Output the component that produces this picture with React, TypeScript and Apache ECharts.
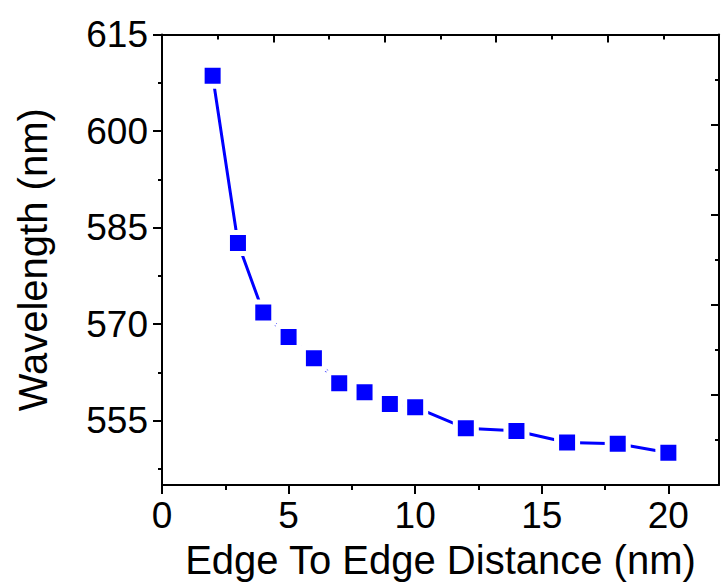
import React, { useEffect, useRef } from "react";
import * as echarts from "echarts";

const distances = [2, 3, 4, 5, 6, 7, 8, 9, 10, 12, 14, 16, 18, 20];
const wavelengths = [608.6, 582.6, 571.8, 568.0, 564.7, 560.8, 559.4, 557.6, 557.1, 553.8, 553.4, 551.6, 551.4, 550.0];

const xMajorTicks = [0, 5, 10, 15, 20];
const xMinorTicks = [2.5, 7.5, 12.5, 17.5];
const yMajorTicks = [555, 570, 585, 600, 615];
const yMinorTicks = [547.5, 562.5, 577.5, 592.5, 607.5];

const xTitle = "Edge To Edge Distance (nm)";
const yTitle = "Wavelength (nm)";

const FONT = "'Liberation Sans', Arial, Helvetica, sans-serif";
const BLACK = "#000000";
const BLUE = "#0000ff";

export default function App() {
  const ref = useRef<HTMLDivElement>(null);

  useEffect(() => {
    if (!ref.current) return;
    const chart = echarts.init(ref.current, null, { renderer: "svg" });
    const line = { lineStyle: { color: BLACK, width: 2 } };
    const option = {
      animation: false,
      backgroundColor: "#ffffff",
      grid: { left: 162, top: 34.5, right: 2, bottom: 103, containLabel: false },
      xAxis: [
        {
          type: "value",
          position: "bottom",
          min: 0,
          max: 22,
          axisLine: { show: true, ...line, onZero: false },
          axisTick: { show: true, inside: false, length: 9, customValues: xMajorTicks, ...line },
          axisLabel: {
            show: true,
            customValues: xMajorTicks,
            fontSize: 37,
            fontFamily: FONT,
            color: BLACK,
            margin: 12,
          },
          splitLine: { show: false },
          name: xTitle,
          nameLocation: "middle",
          nameGap: 55,
          nameTextStyle: { fontSize: 40, fontFamily: FONT, color: BLACK },
        },
        {
          type: "value",
          position: "bottom",
          min: 0,
          max: 22,
          axisLine: { show: false, onZero: false },
          axisTick: { show: true, inside: false, length: 5, customValues: xMinorTicks, ...line },
          axisLabel: { show: false },
          splitLine: { show: false },
        },
        {
          type: "value",
          position: "top",
          min: 0,
          max: 5,
          interval: 1,
          axisLine: { show: true, ...line, onZero: false },
          axisTick: { show: true, inside: true, length: 8, ...line },
          minorTick: { show: true, splitNumber: 2, length: 5, ...line },
          axisLabel: { show: false },
          splitLine: { show: false },
        },
      ],
      yAxis: [
        {
          type: "value",
          position: "left",
          min: 545,
          max: 615,
          axisLine: { show: true, ...line, onZero: false },
          axisTick: { show: true, inside: false, length: 9, customValues: yMajorTicks, ...line },
          axisLabel: {
            show: true,
            customValues: yMajorTicks,
            fontSize: 37,
            fontFamily: FONT,
            color: BLACK,
            margin: 14,
          },
          splitLine: { show: false },
          name: yTitle,
          nameLocation: "middle",
          nameGap: 109,
          nameTextStyle: { fontSize: 40, fontFamily: FONT, color: BLACK },
        },
        {
          type: "value",
          position: "left",
          min: 545,
          max: 615,
          axisLine: { show: false, onZero: false },
          axisTick: { show: true, inside: false, length: 4, customValues: yMinorTicks, ...line },
          axisLabel: { show: false },
          splitLine: { show: false },
        },
        {
          type: "value",
          position: "right",
          min: 0,
          max: 5,
          interval: 1,
          axisLine: { show: true, ...line, onZero: false },
          axisTick: { show: true, inside: true, length: 8, ...line },
          minorTick: { show: true, splitNumber: 2, length: 4, ...line },
          axisLabel: { show: false },
          splitLine: { show: false },
        },
      ],
      series: [
        {
          type: "line",
          xAxisIndex: 0,
          yAxisIndex: 0,
          data: distances.map((d, i) => [d, wavelengths[i]]),
          symbol: "rect",
          symbolSize: 21,
          showSymbol: true,
          itemStyle: { color: BLUE, borderColor: "#ffffff", borderWidth: 5 },
          lineStyle: { color: BLUE, width: 3 },
          z: 3,
        },
      ],
    };
    chart.setOption(option as any);
    return () => chart.dispose();
  }, []);

  return (
    <div
      ref={ref}
      style={{ position: "absolute", left: 0, top: 0, width: 721, height: 588 }}
    />
  );
}
